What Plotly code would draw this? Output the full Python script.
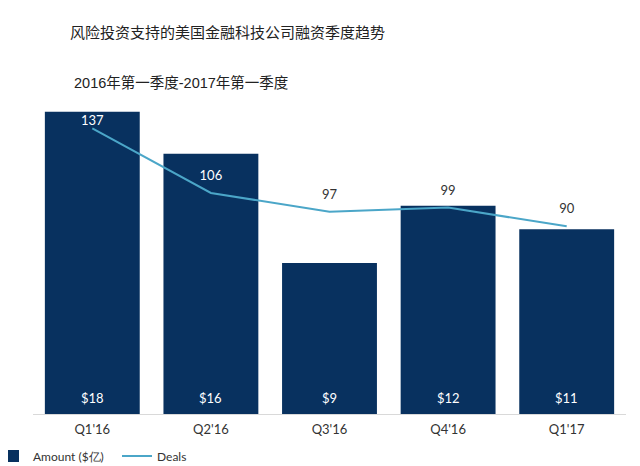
import plotly.graph_objects as go

quarters = ["Q1'16", "Q2'16", "Q3'16", "Q4'16", "Q1'17"]
amounts = [18.0, 15.5, 9.0, 12.4, 11.0]
amount_labels = ["$18", "$16", "$9", "$12", "$11"]
deals = [137, 106, 97, 99, 90]
deal_label_colors = ["white", "white", "#333333", "#333333", "#333333"]
deal_label_pad = [0, 14, 14, 14, 14]  # invisible marker sizes that lift the labels

title_main = "风险投资支持的美国金融科技公司融资季度趋势"
title_sub = "2016年第一季度-2017年第一季度"

BAR = "#08315f"
LINE = "#4ba6c8"
LABEL_FONT = "Lato, Open Sans, sans-serif"
CJK_FONT = "Liberation Sans, Noto Sans CJK SC, sans-serif"

# page body has an 8px margin; figure sized to fit the 640x466 window
W, H = 632, 458
PL, PR, PT, PB = 25, 14, 92, 52
plot_h = H - PT - PB
plot_w = W - PL - PR

fig = go.Figure()
fig.add_trace(go.Bar(
    x=quarters, y=amounts, name="Amount ($亿)",
    marker=dict(color=BAR, line=dict(width=0)),
    hoverinfo="skip",
))
fig.add_trace(go.Scatter(
    x=quarters, y=deals, name="Deals", yaxis="y2",
    mode="lines+markers+text", text=[str(d) for d in deals],
    textposition="top center",
    textfont=dict(color=deal_label_colors, size=13, family=LABEL_FONT),
    marker=dict(size=deal_label_pad, color="rgba(0,0,0,0)", line=dict(width=0)),
    line=dict(color=LINE, width=2),
    hoverinfo="skip",
))

annotations = []
for q, lab in zip(quarters, amount_labels):
    annotations.append(dict(
        x=q, y=0, xref="x", yref="y", text=lab, showarrow=False,
        yanchor="bottom", yshift=6,
        font=dict(color="white", size=13, family=LABEL_FONT),
    ))
annotations.append(dict(
    x=(60 - PL) / plot_w, y=(plot_h + PT - 25) / plot_h, xref="paper", yref="paper",
    text=title_main, showarrow=False, xanchor="left", yanchor="middle",
    font=dict(size=15, color="#222222", family=CJK_FONT),
))
annotations.append(dict(
    x=(64 - PL) / plot_w, y=(plot_h + PT - 75) / plot_h, xref="paper", yref="paper",
    text=title_sub, showarrow=False, xanchor="left", yanchor="middle",
    font=dict(size=14.5, color="#222222", family=CJK_FONT),
))

fig.update_layout(
    width=W, height=H,
    margin=dict(l=PL, r=PR, t=PT, b=PB, autoexpand=False),
    paper_bgcolor="white", plot_bgcolor="white",
    bargap=0.2,
    showlegend=True,
    legend=dict(
        orientation="h", x=(-15 - PL) / plot_w, y=-42 / plot_h,
        xanchor="left", yanchor="middle",
        font=dict(size=12, color="#333333", family=LABEL_FONT),
        itemwidth=30, entrywidth=79, tracegroupgap=0,
    ),
    xaxis=dict(
        showline=True, linecolor="#d9d9d9", linewidth=1,
        ticks="", showgrid=False, zeroline=False, ticklabelstandoff=3,
        tickfont=dict(size=13, color="#333333", family=LABEL_FONT),
        fixedrange=True,
    ),
    yaxis=dict(range=[0, 18.7], visible=False, showgrid=False, zeroline=False),
    yaxis2=dict(range=[0, 150.6], overlaying="y", side="right", visible=False,
                showgrid=False, zeroline=False),
    annotations=annotations,
)

fig.write_html("out.html")
